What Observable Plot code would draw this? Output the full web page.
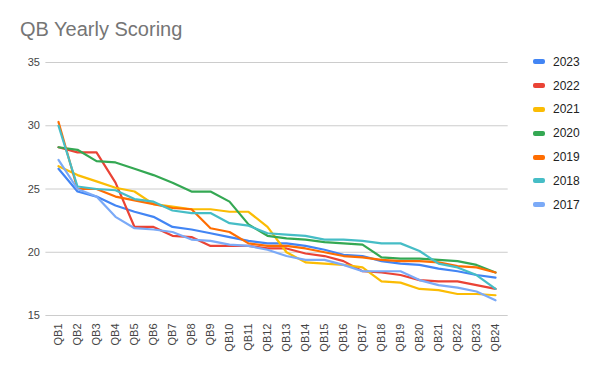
<!DOCTYPE html>
<html>
<head>
<meta charset="utf-8">
<script src="https://cdn.jsdelivr.net/npm/d3@7"></script>
<script src="https://cdn.jsdelivr.net/npm/@observablehq/plot@0.6"></script>
<style>
  html, body { margin: 0; padding: 0; background: #fff; }
  #wrap { position: relative; width: 600px; height: 371px; font-family: "Liberation Sans", Arial, sans-serif; }
  #title { height: 45px; box-sizing: border-box; padding: 19px 0 0 20px; font-size: 20px; color: #757575; line-height: 20px; }
  #legend { position: absolute; left: 533px; top: 50px; font-size: 12px; color: #222; }
  .item { display: flex; align-items: center; height: 23.8px; }
  .sw { width: 12px; height: 5px; border-radius: 2px; margin-right: 8px; }
</style>
</head>
<body>
<div id="wrap">
  <div id="title">QB Yearly Scoring</div>
  <div id="chart"></div>
  <div id="legend"></div>
</div>
<script>
const qbs = Array.from({length: 24}, (_, i) => "QB" + (i + 1));
const years = ["2023", "2022", "2021", "2020", "2019", "2018", "2017"];
const colors = ["#4285F4", "#EA4335", "#FBBC04", "#34A853", "#FF6D01", "#46BDC6", "#7BAAF7"];
const yTicks = [15, 20, 25, 30, 35];

const s2023 = [26.6, 24.8, 24.4, 23.7, 23.2, 22.8, 22.0, 21.8, 21.5, 21.2, 20.9, 20.7, 20.7, 20.5, 20.2, 19.8, 19.7, 19.3, 19.1, 19.0, 18.7, 18.5, 18.2, 18.0];
const s2022 = [28.3, 27.9, 27.9, 25.5, 22.0, 22.0, 21.3, 21.2, 20.5, 20.5, 20.5, 20.3, 20.3, 19.9, 19.7, 19.3, 18.5, 18.4, 18.2, 17.8, 17.7, 17.7, 17.4, 17.1];
const s2021 = [26.8, 26.1, 25.6, 25.1, 24.8, 23.8, 23.6, 23.4, 23.4, 23.2, 23.2, 22.0, 20.0, 19.2, 19.1, 19.0, 18.8, 17.7, 17.6, 17.1, 17.0, 16.7, 16.7, 16.6];
const s2020 = [28.3, 28.1, 27.2, 27.1, 26.6, 26.1, 25.5, 24.8, 24.8, 24.0, 22.2, 21.3, 21.1, 21.0, 20.8, 20.7, 20.6, 19.6, 19.5, 19.5, 19.4, 19.3, 19.0, 18.4];
const s2019 = [30.3, 25.0, 25.0, 24.4, 24.1, 23.8, 23.5, 23.4, 21.9, 21.6, 20.7, 20.5, 20.5, 20.3, 20.0, 19.7, 19.6, 19.4, 19.3, 19.3, 19.2, 18.9, 18.8, 18.4];
const s2018 = [30.0, 25.2, 25.0, 24.9, 24.2, 24.0, 23.3, 23.1, 23.1, 22.3, 22.1, 21.5, 21.4, 21.3, 21.0, 21.0, 20.9, 20.7, 20.7, 20.1, 19.1, 18.8, 18.2, 17.1];
const s2017 = [27.3, 25.0, 24.4, 22.8, 21.9, 21.8, 21.6, 21.0, 20.9, 20.6, 20.5, 20.2, 19.7, 19.4, 19.4, 19.0, 18.5, 18.5, 18.5, 17.8, 17.4, 17.2, 16.9, 16.2];

const series = [s2023, s2022, s2021, s2020, s2019, s2018, s2017];
const data = [];
series.forEach((vals, k) => vals.forEach((v, i) => data.push({qb: qbs[i], year: years[k], value: v})));

const chart = Plot.plot({
  width: 600,
  height: 326,
  marginLeft: 45.4,
  marginRight: 92.3,
  marginTop: 17,
  marginBottom: 56,
  style: {fontFamily: "Liberation Sans, Arial, sans-serif", fontSize: "11px", color: "#444"},
  x: {type: "point", domain: qbs, padding: 0.5, label: null},
  y: {domain: [15, 35], ticks: yTicks, label: null},
  color: {domain: years, range: colors},
  marks: [
    Plot.gridY(yTicks, {stroke: "#cccccc", strokeOpacity: 1, strokeWidth: 1}),
    Plot.axisY(yTicks, {tickSize: 0, tickPadding: 6, fill: "#444", fontSize: 11}),
    Plot.axisX({tickSize: 0, tickRotate: -90, tickPadding: 8, fill: "#444", fontSize: 11}),
    Plot.line(data, {x: "qb", y: "value", z: "year", stroke: "year", strokeWidth: 2.2, strokeLinejoin: "round"})
  ]
});
document.getElementById("chart").appendChild(chart);

const legend = document.getElementById("legend");
years.forEach((y, k) => {
  const it = document.createElement("div");
  it.className = "item";
  it.innerHTML = `<span class="sw" style="background:${colors[k]}"></span><span>${y}</span>`;
  legend.appendChild(it);
});
</script>
</body>
</html>
